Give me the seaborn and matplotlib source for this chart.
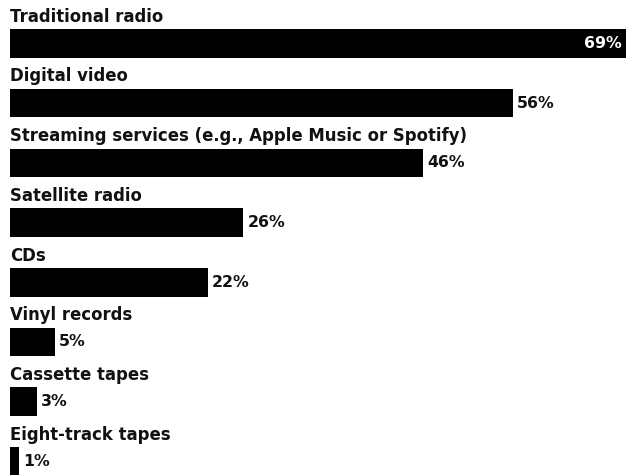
import matplotlib
matplotlib.use("Agg")
import matplotlib.pyplot as plt
import seaborn as sns
import pandas as pd

categories = ["Traditional radio", "Digital video",
              "Streaming services (e.g., Apple Music or Spotify)",
              "Satellite radio", "CDs", "Vinyl records",
              "Cassette tapes", "Eight-track tapes"]
values = [69, 56, 46, 26, 22, 5, 3, 1]
value_labels = ["69%", "56%", "46%", "26%", "22%", "5%", "3%", "1%"]

sns.set_theme(style="white")
plt.rcParams['font.family'] = ['DejaVu Sans']

df = pd.DataFrame({"cat": categories, "val": values})

fig = plt.figure(figsize=(6.26, 4.75), dpi=100)
ax = fig.add_axes([10/626, 0, 1 - 10/626, 1])
sns.barplot(data=df, y="cat", x="val", orient="h", color="black",
            width=0.477, saturation=1, ax=ax, edgecolor="none")

ax.set_xlim(0, 68.6)
ax.set_ylim(7.226, -0.724)
ax.axis("off")

for i, (cat, v, lab) in enumerate(zip(categories, values, value_labels)):
    ax.text(0, i - 0.364, cat, ha="left", va="baseline",
            fontsize=11.9, fontweight="bold", color="#111111")
    if v > 60:
        ax.text(68.6 - 0.45, i, lab, ha="right", va="center",
                fontsize=11.3, fontweight="bold", color="white")
    else:
        ax.text(v + 0.45, i, lab, ha="left", va="center",
                fontsize=11.3, fontweight="bold", color="#111111")

fig.savefig("out.png", dpi=100, facecolor="white")
